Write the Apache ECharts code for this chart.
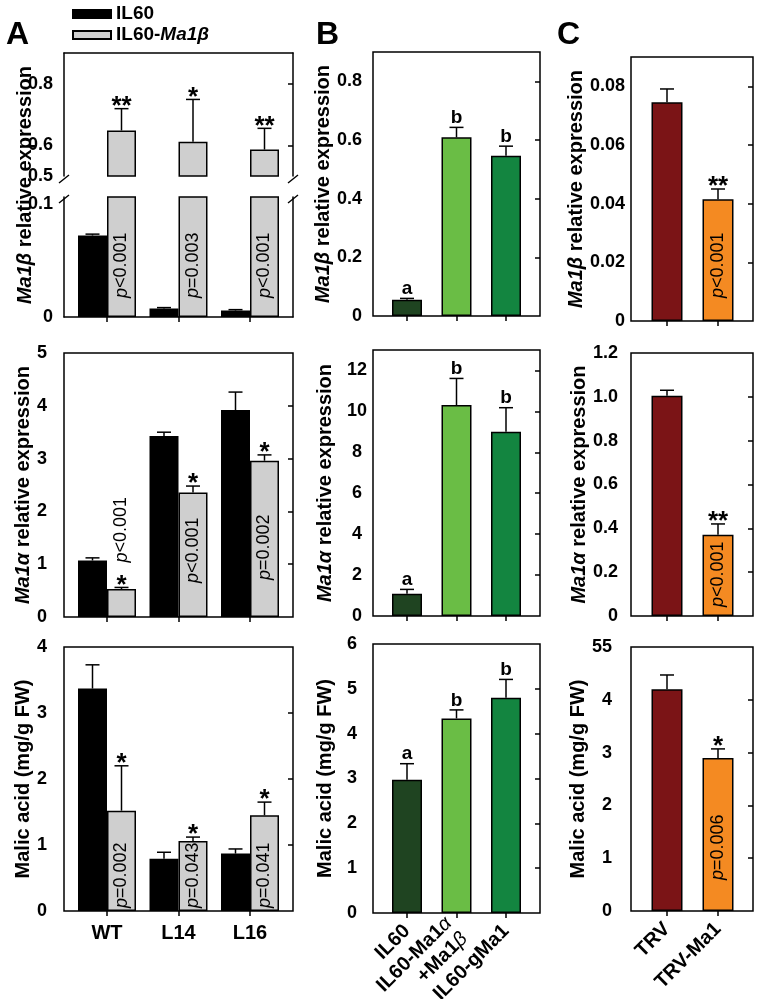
<!DOCTYPE html>
<html><head><meta charset="utf-8">
<script src="https://cdn.jsdelivr.net/npm/echarts@6/dist/echarts.min.js"></script>
<style>html,body{margin:0;padding:0;background:#fff}#c{width:760px;height:999px}</style>
</head><body><div id="c"></div>
<script>
// ---------------- DATA ----------------
const catsA = ['WT', 'L14', 'L16'];
const catsB = ['IL60', 'IL60-Ma1α +Ma1β', 'IL60-gMa1'];
const catsC = ['TRV', 'TRV-Ma1'];
const seriesNamesA = ['IL60', 'IL60-Ma1β'];

// Panel A – Ma1β relative expression
const aMa1b_IL60 = [0.072, 0.0075, 0.0057];
const aMa1b_IL60_sd = [0.0012, 0.0008, 0.0008];
const aMa1b_OE = [0.648, 0.611, 0.586];
const aMa1b_OE_sd = [0.071, 0.138, 0.069];
const aMa1b_marks = ['**', '*', '**'];
const aMa1b_p = ['p<0.001', 'p=0.003', 'p<0.001'];
// Panel A – Ma1α relative expression
const aMa1a_IL60 = [1.07, 3.43, 3.92];
const aMa1a_IL60_sd = [0.05, 0.07, 0.34];
const aMa1a_OE = [0.53, 2.36, 2.96];
const aMa1a_OE_sd = [0.03, 0.12, 0.11];
const aMa1a_marks = ['*', '*', '*'];
const aMa1a_p = ['p<0.001', 'p<0.001', 'p=0.002'];
// Panel A – malic acid
const aMal_IL60 = [3.37, 0.79, 0.87];
const aMal_IL60_sd = [0.36, 0.10, 0.07];
const aMal_OE = [1.52, 1.06, 1.45];
const aMal_OE_sd = [0.68, 0.06, 0.20];
const aMal_marks = ['*', '*', '*'];
const aMal_p = ['p=0.002', 'p=0.043', 'p=0.041'];

// Panel B
const bMa1b = [0.055, 0.609, 0.546];
const bMa1b_sd = [0.005, 0.034, 0.033];
const bMa1a = [1.09, 10.31, 9.01];
const bMa1a_sd = [0.21, 1.30, 1.17];
const bMal = [2.97, 4.34, 4.80];
const bMal_sd = [0.36, 0.19, 0.41];
const bLetters = ['a', 'b', 'b'];

// Panel C
const cMa1b = [0.0746, 0.0415];
const cMa1b_sd = [0.0045, 0.0035];
const cMa1a = [1.005, 0.371];
const cMa1a_sd = [0.025, 0.049];
const cMal = [4.20, 2.90];
const cMal_sd = [0.27, 0.17];
const cMa1b_marks = ['', '**'];
const cMa1a_marks = ['', '**'];
const cMal_marks = ['', '*'];
const cMa1b_p = ['', 'p<0.001'];
const cMa1a_p = ['', 'p<0.001'];
const cMal_p = ['', 'p=0.006'];

// tick values / labels
const ticksA1u = [0.5, 0.6, 0.8];   const labelsA1u = ['0.5', '0.6', '0.8'];
const ticksA1l = [0, 0.1];          const labelsA1l = ['0', '0.1'];
const ticksA2 = [0, 1, 2, 3, 4, 5]; const labelsA2 = ['0', '1', '2', '3', '4', '5'];
const ticksA3 = [0, 1, 2, 3, 4];    const labelsA3 = ['0', '1', '2', '3', '4'];
const ticksB1 = [0, 0.2, 0.4, 0.6, 0.8]; const labelsB1 = ['0', '0.2', '0.4', '0.6', '0.8'];
const ticksB2 = [0, 2, 4, 6, 8, 10, 12]; const labelsB2 = ['0', '2', '4', '6', '8', '10', '12'];
const ticksB3 = [0, 1, 2, 3, 4, 5, 6];   const labelsB3 = ['0', '1', '2', '3', '4', '5', '6'];
const ticksC1 = [0, 0.02, 0.04, 0.06, 0.08]; const labelsC1 = ['0', '0.02', '0.04', '0.06', '0.08'];
const ticksC2 = [0, 0.2, 0.4, 0.6, 0.8, 1.0, 1.2]; const labelsC2 = ['0', '0.2', '0.4', '0.6', '0.8', '1.0', '1.2'];
const ticksC3 = [0, 1, 2, 3, 4, 5];  const labelsC3 = ['0', '1', '2', '3', '4', '55'];

// ---------------- STYLE / LAYOUT ----------------
const FONT = '"Liberation Sans", Arial, sans-serif';
const BLACK = '#000';
const LW = 1.5;
const colIL60 = '#000000', colOE = '#cfcfcf';
const colorsB = ['#1f4421', '#6abd45', '#138540'];
const colorsC = ['#7b1416', '#f48a22'];
const COL = {
  A: { left: 64, right: 293, barsLeft: 71.25, barsWidth: 214.5, barW: 29, nameGap: 29 },
  B: { left: 373, right: 540, barsLeft: 382.25, barsWidth: 148.5, barW: 30, nameGap: 38 },
  C: { left: 631, right: 753, barsLeft: 641.5, barsWidth: 102, barW: 31, nameGap: 41 }
};
const titleMa1b = '{i|Ma1β} relative expression';
const titleMa1a = '{i|Ma1α} relative expression';
const titleMal = 'Malic acid (mg/g FW)';

const grids = [], xAxes = [], yAxes = [], series = [];
const nameStyle = {
  fontFamily: FONT, fontSize: 20, fontWeight: 'bold', color: BLACK,
  rich: { i: { fontFamily: FONT, fontSize: 20, fontWeight: 'bold', fontStyle: 'italic', color: BLACK } }
};
function lab(ticks, labels) {
  return v => { const k = ticks.findIndex(t => Math.abs(t - v) < 1e-9); return k >= 0 ? labels[k] : ''; };
}
function frame(o) {
  const g = grids.length;
  grids.push({ left: o.left, top: o.top, width: o.right - o.left, height: o.bottom - o.top,
    show: !!o.box, borderColor: BLACK, borderWidth: LW, outerBoundsMode: 'none', containLabel: false });
  xAxes.push({ gridIndex: g, type: 'value', min: 0, max: 1, position: o.xLinePos || 'bottom', show: !!o.xLinePos,
    axisLine: { show: true, lineStyle: { color: BLACK, width: LW } }, axisTick: { show: false },
    axisLabel: { show: false }, splitLine: { show: false } });
  yAxes.push({ gridIndex: g, type: 'value', position: 'left', min: o.min, max: o.max,
    axisLine: { show: !!o.sideLines, lineStyle: { color: BLACK, width: LW } }, axisTick: { show: false },
    axisLabel: { show: !!o.ticks, customValues: o.ticks, formatter: o.ticks ? lab(o.ticks, o.labels) : undefined,
      margin: o.labelMargin, align: o.labelAlign || 'right', fontFamily: FONT, fontSize: 18, fontWeight: 'bold', color: BLACK },
    splitLine: { show: false },
    name: o.name || '', nameLocation: 'middle', nameGap: o.nameGap, nameRotate: 90, nameTextStyle: nameStyle });
  yAxes.push({ gridIndex: g, type: 'value', position: 'right', min: o.min, max: o.max,
    axisLine: { show: !!o.sideLines, lineStyle: { color: BLACK, width: LW } },
    axisTick: { show: !!o.rticks, inside: true, length: 5, customValues: o.rticks, lineStyle: { color: BLACK, width: LW } },
    axisLabel: { show: false }, splitLine: { show: false } });
}
function barsGrid(o) {
  const g = grids.length;
  grids.push({ left: o.left, top: o.top, width: o.width, height: o.bottom - o.top, outerBoundsMode: 'none', containLabel: false });
  const xi = xAxes.length;
  xAxes.push({ gridIndex: g, type: 'category', data: o.cats, axisLine: { show: false },
    axisTick: { show: !!o.xTicks, alignWithLabel: true, length: 5, lineStyle: { color: BLACK, width: LW } },
    axisLabel: Object.assign({ show: !!o.xLabels, interval: 0, fontFamily: FONT, fontSize: 20, fontWeight: 'bold', color: BLACK }, o.labelOpts || {}),
    splitLine: { show: false } });
  const yi = yAxes.length;
  yAxes.push({ gridIndex: g, type: 'value', min: o.min, max: o.max, show: false, splitLine: { show: false } });
  return { xi, yi };
}
function bars(ax, name, vals, color, barW, colors) {
  series.push({ type: 'bar', name, xAxisIndex: ax.xi, yAxisIndex: ax.yi, barWidth: barW, barGap: '0%',
    data: vals.map((v, i) => ({ value: v, itemStyle: { color: colors ? colors[i] : color } })),
    itemStyle: { color, borderColor: BLACK, borderWidth: LW }, silent: true, emphasis: { disabled: true } });
}
function anno(ax, vals, sds, offset, o) {
  series.push({ type: 'custom', xAxisIndex: ax.xi, yAxisIndex: ax.yi, clip: true, silent: true, z: 10,
    data: vals.map((v, i) => [i, v, sds[i]]),
    renderItem: (params, api) => {
      const i = params.dataIndex, v = api.value(1), e = api.value(2);
      const c0 = api.coord([i, v]), c1 = api.coord([i, v + e]), cb = api.coord([i, 0]);
      const x = c0[0] + offset;
      const ch = [
        { type: 'line', shape: { x1: x, y1: c0[1], x2: x, y2: c1[1] }, style: { stroke: BLACK, lineWidth: LW } },
        { type: 'line', shape: { x1: x - 7, y1: c1[1], x2: x + 7, y2: c1[1] }, style: { stroke: BLACK, lineWidth: LW } }
      ];
      const mk = o.marks && o.marks[i];
      if (mk) {
        const star = mk.indexOf('*') >= 0;
        ch.push({ type: 'text', style: { text: mk, x: x, y: c1[1] + (star ? 11 : 0), align: 'center', verticalAlign: 'bottom',
          fontFamily: FONT, fontSize: star ? 26 : 19, fontWeight: 'bold', fill: BLACK } });
      }
      const pt = o.p && o.p[i];
      if (pt) {
        const pl = o.pPlace[i];
        const y = pl.from === 'base' ? cb[1] - pl.px : c1[1] - pl.px;
        ch.push({ type: 'text', x: x, y: y, rotation: Math.PI / 2,
          style: { text: '{i|p}' + pt.slice(1), x: 0, y: 0, align: 'left', verticalAlign: 'middle',
            fontFamily: FONT, fontSize: 18, fill: BLACK,
            rich: { i: { fontFamily: FONT, fontSize: 18, fontStyle: 'italic', fill: BLACK } } } });
      }
      return { type: 'group', children: ch };
    } });
}

// ---------------- BUILD ----------------
const A = COL.A, B = COL.B, C = COL.C;
const base = n => ({ from: 'base', px: n });
// --- Row 1, A (broken axis)
frame({ left: A.left, right: A.right, top: 53, bottom: 317, min: 0, max: 1, name: titleMa1b, nameGap: A.nameGap });
frame({ left: A.left, right: A.right, top: 53, bottom: 176, min: 0.5, max: 0.9, ticks: ticksA1u, labels: labelsA1u,
  rticks: [0.6, 0.8], labelMargin: 11, xLinePos: 'top', sideLines: true });
frame({ left: A.left, right: A.right, top: 197, bottom: 317, min: 0, max: 0.106, ticks: ticksA1l, labels: labelsA1l,
  labelMargin: 11, xLinePos: 'bottom', sideLines: true });
[{ top: 53, bottom: 176, min: 0.5, max: 0.9, xTicks: false }, { top: 197, bottom: 317, min: 0, max: 0.106, xTicks: true }]
  .forEach(s => {
    const ax = barsGrid({ left: A.barsLeft, width: A.barsWidth, top: s.top, bottom: s.bottom, min: s.min, max: s.max, cats: catsA, xTicks: s.xTicks });
    bars(ax, seriesNamesA[0], aMa1b_IL60, colIL60, A.barW);
    bars(ax, seriesNamesA[1], aMa1b_OE, colOE, A.barW);
    anno(ax, aMa1b_IL60, aMa1b_IL60_sd, -A.barW / 2, {});
    anno(ax, aMa1b_OE, aMa1b_OE_sd, A.barW / 2, { marks: aMa1b_marks, p: aMa1b_p, pPlace: [base(19), base(19), base(19)] });
  });
// --- Row 1, B
frame({ left: B.left, right: B.right, top: 52, bottom: 316, min: 0, max: 0.9, ticks: ticksB1, labels: labelsB1,
  rticks: ticksB1.slice(1), labelMargin: 11, box: true, name: titleMa1b, nameGap: B.nameGap });
(() => { const ax = barsGrid({ left: B.barsLeft, width: B.barsWidth, top: 52, bottom: 316, min: 0, max: 0.9, cats: catsB, xTicks: true });
  bars(ax, 'B1', bMa1b, colorsB[0], B.barW, colorsB); anno(ax, bMa1b, bMa1b_sd, 0, { marks: bLetters }); })();
// --- Row 1, C
frame({ left: C.left, right: C.right, top: 57, bottom: 321, min: 0, max: 0.09, ticks: ticksC1, labels: labelsC1,
  rticks: ticksC1.slice(1), labelMargin: 6, box: true, name: titleMa1b, nameGap: C.nameGap });
(() => { const ax = barsGrid({ left: C.barsLeft, width: C.barsWidth, top: 57, bottom: 321, min: 0, max: 0.09, cats: catsC, xTicks: true });
  bars(ax, 'C1', cMa1b, colorsC[0], C.barW, colorsC); anno(ax, cMa1b, cMa1b_sd, 0, { marks: cMa1b_marks, p: cMa1b_p, pPlace: [base(23), base(23)] }); })();

// --- Row 2, A
frame({ left: A.left, right: A.right, top: 353, bottom: 617, min: 0, max: 5, ticks: ticksA2, labels: labelsA2,
  rticks: ticksA2.slice(1, 5), labelMargin: 17, box: true, name: titleMa1a, nameGap: A.nameGap });
(() => { const ax = barsGrid({ left: A.barsLeft, width: A.barsWidth, top: 353, bottom: 617, min: 0, max: 5, cats: catsA, xTicks: true });
  bars(ax, seriesNamesA[0], aMa1a_IL60, colIL60, A.barW);
  bars(ax, seriesNamesA[1], aMa1a_OE, colOE, A.barW);
  anno(ax, aMa1a_IL60, aMa1a_IL60_sd, -A.barW / 2, {});
  anno(ax, aMa1a_OE, aMa1a_OE_sd, A.barW / 2, { marks: aMa1a_marks, p: aMa1a_p, pPlace: [{ from: 'err', px: 25 }, base(34), base(37)] }); })();
// --- Row 2, B
frame({ left: B.left, right: B.right, top: 350, bottom: 616, min: 0, max: 13, ticks: ticksB2, labels: labelsB2,
  rticks: ticksB2.slice(1), labelMargin: 16, labelAlign: 'center', box: true, name: titleMa1a, nameGap: B.nameGap });
(() => { const ax = barsGrid({ left: B.barsLeft, width: B.barsWidth, top: 350, bottom: 616, min: 0, max: 13, cats: catsB, xTicks: true });
  bars(ax, 'B2', bMa1a, colorsB[0], B.barW, colorsB); anno(ax, bMa1a, bMa1a_sd, 0, { marks: bLetters }); })();
// --- Row 2, C
frame({ left: C.left, right: C.right, top: 353, bottom: 616, min: 0, max: 1.2, ticks: ticksC2, labels: labelsC2,
  rticks: ticksC2.slice(1, 6), labelMargin: 13, box: true, name: titleMa1a, nameGap: C.nameGap });
(() => { const ax = barsGrid({ left: C.barsLeft, width: C.barsWidth, top: 353, bottom: 616, min: 0, max: 1.2, cats: catsC, xTicks: true });
  bars(ax, 'C2', cMa1a, colorsC[0], C.barW, colorsC); anno(ax, cMa1a, cMa1a_sd, 0, { marks: cMa1a_marks, p: cMa1a_p, pPlace: [base(9), base(9)] }); })();

// --- Row 3, A
frame({ left: A.left, right: A.right, top: 647, bottom: 911, min: 0, max: 4, ticks: ticksA3, labels: labelsA3,
  rticks: ticksA3.slice(1, 4), labelMargin: 17, box: true, name: titleMal, nameGap: A.nameGap });
(() => { const ax = barsGrid({ left: A.barsLeft, width: A.barsWidth, top: 647, bottom: 911, min: 0, max: 4, cats: catsA, xTicks: true,
    xLabels: true, labelOpts: { margin: 12, fontSize: 20 } });
  bars(ax, seriesNamesA[0], aMal_IL60, colIL60, A.barW);
  bars(ax, seriesNamesA[1], aMal_OE, colOE, A.barW);
  anno(ax, aMal_IL60, aMal_IL60_sd, -A.barW / 2, {});
  anno(ax, aMal_OE, aMal_OE_sd, A.barW / 2, { marks: aMal_marks, p: aMal_p, pPlace: [base(3), base(3), base(3)] }); })();
// --- Row 3, B
const richGreek = { g: { fontFamily: FONT, fontSize: 20, fontStyle: 'italic', fontWeight: 'normal', color: BLACK } };
frame({ left: B.left, right: B.right, top: 644, bottom: 913, min: 0, max: 6, ticks: ticksB3, labels: labelsB3,
  rticks: ticksB3.slice(1, 6), labelMargin: 16, box: true, name: titleMal, nameGap: B.nameGap });
(() => { const ax = barsGrid({ left: B.barsLeft, width: B.barsWidth, top: 644, bottom: 913, min: 0, max: 6, cats: catsB, xTicks: true,
    xLabels: true, labelOpts: { rotate: 45, margin: 15, fontSize: 20, lineHeight: 22, rich: richGreek,
      formatter: s => s.replace(/([αβ])/g, '{g|$1}').replace(' ', '\n') } });
  bars(ax, 'B3', bMal, colorsB[0], B.barW, colorsB); anno(ax, bMal, bMal_sd, 0, { marks: bLetters }); })();
// --- Row 3, C
frame({ left: C.left, right: C.right, top: 647, bottom: 911, min: 0, max: 5, ticks: ticksC3, labels: labelsC3,
  rticks: ticksC3.slice(1, 5), labelMargin: 19, box: true, name: titleMal, nameGap: C.nameGap });
(() => { const ax = barsGrid({ left: C.barsLeft, width: C.barsWidth, top: 647, bottom: 911, min: 0, max: 5, cats: catsC, xTicks: true,
    xLabels: true, labelOpts: { rotate: 45, margin: 15, fontSize: 20 } });
  bars(ax, 'C3', cMal, colorsC[0], C.barW, colorsC); anno(ax, cMal, cMal_sd, 0, { marks: cMal_marks, p: cMal_p, pPlace: [base(31), base(31)] }); })();

// axis-break marks (decoration of panel A top frame)
const brk = [];
[A.left, A.right].forEach(x => [179, 199].forEach(y => brk.push({ type: 'line', silent: true,
  shape: { x1: x - 5, y1: y + 4, x2: x + 5, y2: y - 4 }, style: { stroke: BLACK, lineWidth: LW } })));

const letterStyle = { fontFamily: FONT, fontSize: 32, fontWeight: 'bold', color: BLACK };
const chart = echarts.init(document.getElementById('c'), null, { renderer: 'canvas' });
chart.setOption({
  animation: false,
  backgroundColor: '#fff',
  title: [
    { text: 'A', left: 6, top: 19, padding: 0, textStyle: letterStyle },
    { text: 'B', left: 316, top: 19, padding: 0, textStyle: letterStyle },
    { text: 'C', left: 557, top: 19, padding: 0, textStyle: letterStyle }
  ],
  legend: {
    data: seriesNamesA, orient: 'vertical', left: 72, top: 4, padding: 0, itemGap: 1, itemWidth: 38, itemHeight: 8, icon: 'rect',
    selectedMode: false,
    formatter: n => n.replace('Ma1β', '{i|Ma1β}'),
    textStyle: { fontFamily: FONT, fontSize: 19, fontWeight: 'bold', color: BLACK, lineHeight: 20,
      rich: { i: { fontFamily: FONT, fontSize: 19, fontWeight: 'bold', fontStyle: 'italic', color: BLACK } } }
  },
  grid: grids, xAxis: xAxes, yAxis: yAxes, series: series,
  graphic: brk
});
</script></body></html>
